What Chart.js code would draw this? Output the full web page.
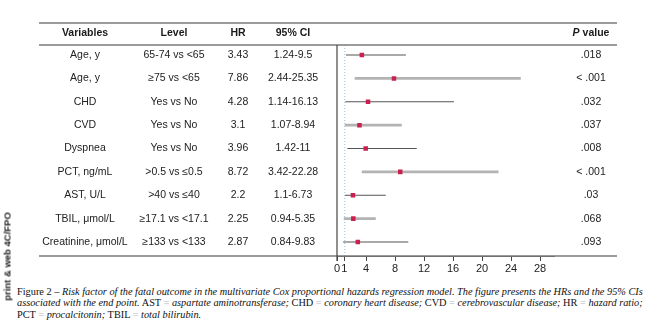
<!DOCTYPE html>
<html>
<head>
<meta charset="utf-8">
<script src="https://cdn.jsdelivr.net/npm/chart.js@4.4.0/dist/chart.umd.min.js"></script>
<style>
  html, body { margin: 0; padding: 0; background: #fff; }
  #wrap { position: relative; width: 665px; height: 324px; overflow: hidden; }
  #c { position: absolute; left: 0; top: 0; }
  #cap { position: absolute; left: 17px; top: 286px; font-family: "Liberation Serif", "DejaVu Serif", serif; font-size: 10.3px; line-height: 11.4px; color: #111; white-space: nowrap; }
  #cap i { font-style: italic; }
  #cap .eq { color: #b5b5b5; font-style: normal; }
  #side { position: absolute; left: -38px; top: 251px; width: 90px; transform: rotate(-90deg); transform-origin: center center; font-family: "Liberation Sans", Arial, sans-serif; font-weight: bold; font-size: 9.5px; color: #222; text-align: center; white-space: nowrap; }
</style>
</head>
<body>
<div id="wrap">
  <canvas id="c" width="665" height="280"></canvas>
  <div id="side">print &amp; web 4C/FPO</div>
  <div id="cap">Figure 2 – <i>Risk factor of the fatal outcome in the multivariate Cox proportional hazards regression model. The figure presents the HRs and the 95% CIs</i><br><i>associated with the end point.</i> AST <span class="eq">=</span> <i>aspartate aminotransferase;</i> CHD <span class="eq">=</span> <i>coronary heart disease;</i> CVD <span class="eq">=</span> <i>cerebrovascular disease;</i> HR <span class="eq">=</span> <i>hazard ratio;</i><br>PCT <span class="eq">=</span> <i>procalcitonin;</i> TBIL <span class="eq">=</span> <i>total bilirubin.</i></div>
</div>
<script>
const variables = ["Age, y","Age, y","CHD","CVD","Dyspnea","PCT, ng/mL","AST, U/L","TBIL, μmol/L","Creatinine, μmol/L"];
const levels = ["65-74 vs <65","≥75 vs <65","Yes vs No","Yes vs No","Yes vs No",">0.5 vs ≤0.5",">40 vs ≤40","≥17.1 vs <17.1","≥133 vs <133"];
const hr = [3.43, 7.86, 4.28, 3.1, 3.96, 8.72, 2.2, 2.25, 2.87];
const ciLow = [1.24, 2.44, 1.14, 1.07, 1.42, 3.42, 1.1, 0.94, 0.84];
const ciHigh = [9.5, 25.35, 16.13, 8.94, 11, 22.28, 6.73, 5.35, 9.83];
const pValues = [".018","< .001",".032",".037",".008","< .001",".03",".068",".093"];
const xTicks = [0, 1, 4, 8, 12, 16, 20, 24, 28];
const headers = ["Variables","Level","HR","95% CI"];

const SANS = '"Liberation Sans", Arial, Helvetica, sans-serif';
const colX = [85, 174, 238, 293];
const pX = 591;

const datasets = [];
hr.forEach((v, i) => {
  const even = i % 2 === 1;
  datasets.push({
    type: 'line',
    data: [{x: ciLow[i], y: i}, {x: ciHigh[i], y: i}],
    borderColor: even ? '#b3b3b3' : '#555555',
    borderWidth: even ? 2.6 : 1.1,
    pointRadius: 0,
    fill: false,
    order: 2
  });
});
datasets.push({
  type: 'scatter',
  data: hr.map((v, i) => ({x: v, y: i})),
  pointStyle: 'rect',
  pointRadius: 3.2,
  backgroundColor: '#c9204f',
  borderColor: '#c9204f',
  borderWidth: 0,
  order: 1
});

const tablePlugin = {
  id: 'table',
  beforeDatasetsDraw(chart) {
    const {ctx, chartArea, scales} = chart;
    const x1 = scales.x.getPixelForValue(1);
    ctx.save();
    ctx.strokeStyle = '#8cc3e6';
    ctx.lineWidth = 1;
    ctx.setLineDash([1, 2]);
    ctx.beginPath();
    ctx.moveTo(x1 + 0.5, chartArea.top);
    ctx.lineTo(x1 + 0.5, chartArea.bottom);
    ctx.stroke();
    ctx.restore();
  },
  afterDraw(chart) {
    const {ctx, chartArea, scales} = chart;
    const ys = scales.y;
    const L = 39, R = 617;
    ctx.save();
    ctx.strokeStyle = '#7a7a7a';
    ctx.lineWidth = 1.3;
    [23, chartArea.top, chartArea.bottom].forEach(y => {
      ctx.beginPath(); ctx.moveTo(L, y); ctx.lineTo(R, y); ctx.stroke();
    });
    const x0 = scales.x.getPixelForValue(0);
    ctx.strokeStyle = '#444';
    ctx.lineWidth = 1.2;
    ctx.beginPath(); ctx.moveTo(x0, chartArea.top); ctx.lineTo(x0, chartArea.bottom + 5); ctx.stroke();
    ctx.fillStyle = '#1a1a1a';
    ctx.textAlign = 'center';
    ctx.textBaseline = 'middle';
    ctx.font = 'bold 10.5px ' + SANS;
    headers.forEach((h, k) => ctx.fillText(h, colX[k], 33.5));
    ctx.textAlign = 'left';
    ctx.font = 'italic bold 10.5px ' + SANS;
    const pw = ctx.measureText('P').width;
    ctx.font = 'bold 10.5px ' + SANS;
    const vw = ctx.measureText(' value').width;
    const start = pX - (pw + vw) / 2;
    ctx.font = 'italic bold 10.5px ' + SANS;
    ctx.fillText('P', start, 33.5);
    ctx.font = 'bold 10.5px ' + SANS;
    ctx.fillText(' value', start + pw, 33.5);
    ctx.textAlign = 'center';
    ctx.font = '10.5px ' + SANS;
    ctx.fillStyle = '#222';
    variables.forEach((v, i) => {
      const y = ys.getPixelForValue(i);
      ctx.fillText(v, colX[0], y);
      ctx.fillText(levels[i], colX[1], y);
      ctx.fillText(String(hr[i]), colX[2], y);
      ctx.fillText(ciLow[i] + '-' + ciHigh[i], colX[3], y);
      ctx.fillText(pValues[i], pX, y);
    });
    ctx.restore();
  }
};

new Chart(document.getElementById('c'), {
  data: { datasets },
  options: {
    responsive: false,
    animation: false,
    devicePixelRatio: 1,
    layout: { padding: { left: 337, right: 110.5, top: 45, bottom: 0 } },
    plugins: { legend: { display: false }, tooltip: { enabled: false } },
    scales: {
      x: {
        type: 'linear',
        min: 0, max: 30,
        position: 'bottom',
        afterBuildTicks(scale) { scale.ticks = xTicks.map(v => ({ value: v })); },
        afterFit(scale) { scale.height = 24; },
        grid: { drawOnChartArea: false, drawTicks: true, tickLength: 5, color: '#444', lineWidth: 1 },
        border: { display: true, color: '#555', width: 1 },
        ticks: { autoSkip: false, maxRotation: 0, padding: 1, color: '#222', font: { family: SANS, size: 11 } }
      },
      y: {
        type: 'linear',
        reverse: true,
        min: -0.43, max: 8.6,
        display: false
      }
    }
  },
  plugins: [tablePlugin]
});
</script>
</body>
</html>
